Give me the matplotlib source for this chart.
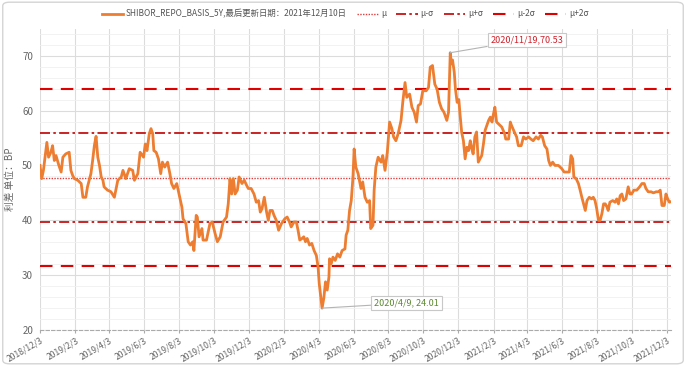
import numpy as np
import pandas as pd
import matplotlib
matplotlib.use("Agg")
import matplotlib.pyplot as plt
from matplotlib.patches import FancyBboxPatch

plt.rcParams['font.family'] = ['Noto Sans CJK SC', 'DejaVu Sans']

# series: days since 2018/12/3 and spread (BP)
start_date = '2018-12-03'
days = [0, 3, 6, 12, 15, 19, 22, 25, 28, 33, 37, 40, 45, 51, 54, 57, 60, 66, 72, 75,
        80, 83, 86, 89, 92, 95, 98, 101, 104, 107, 110, 112, 118, 124, 130, 136, 142, 145, 150, 156,
        162, 165, 171, 175, 181, 184, 187, 191, 194, 197, 199, 203, 207, 211, 214, 218, 223, 227, 230, 234,
        239, 243, 248, 250, 255, 259, 263, 267, 269, 273, 275, 278, 283, 285, 291, 297, 301, 306, 310, 315,
        320, 326, 329, 332, 335, 338, 341, 345, 348, 353, 357, 361, 364, 369, 374, 378, 382, 385, 388, 392,
        396, 399, 402, 406, 409, 413, 417, 422, 428, 432, 436, 439, 444, 448, 451, 454, 458, 461, 464, 467,
        471, 475, 479, 483, 486, 488, 491, 493, 496, 499, 502, 505, 506, 509, 512, 516, 520, 524, 528, 533,
        535, 538, 541, 544, 547, 549, 552, 556, 561, 564, 568, 572, 576, 578, 582, 584, 587, 591, 596, 599,
        603, 607, 611, 615, 618, 622, 626, 631, 634, 638, 641, 646, 650, 654, 658, 661, 665, 669, 675, 679,
        682, 686, 690, 694, 698, 702, 706, 711, 714, 717, 719, 721, 724, 726, 729, 732, 734, 737, 740, 743,
        746, 749, 752, 754, 757, 760, 763, 766, 769, 772, 775, 778, 781, 784, 787, 790, 792, 795, 798, 801,
        807, 812, 814, 819, 822, 824, 829, 833, 836, 841, 845, 849, 854, 858, 862, 867, 871, 875, 878, 882,
        886, 889, 892, 896, 900, 906, 912, 916, 921, 925, 928, 931, 933, 937, 941, 944, 947, 950, 953, 956,
        960, 964, 967, 970, 973, 976, 979, 982, 985, 988, 991, 993, 996, 1001, 1005, 1008, 1011, 1014, 1017, 1020,
        1024, 1028, 1031, 1034, 1038, 1043, 1048, 1052, 1056, 1059, 1063, 1068, 1072, 1077, 1081, 1084, 1087, 1091, 1094, 1097,
        1100, 1103]
spread = [50.0, 47.6, 49.1, 54.2, 51.5, 52.4, 53.6, 50.9, 51.8, 50.0, 48.8, 51.5, 52.1, 52.4, 49.1, 48.2, 47.6, 47.3, 46.7, 44.2,
          44.2, 46.1, 47.3, 48.5, 50.9, 53.6, 55.3, 51.5, 50.0, 47.9, 47.3, 46.1, 45.5, 45.2, 44.2, 47.3, 47.9, 49.1, 47.6, 49.4,
          49.1, 47.3, 48.5, 52.4, 51.5, 53.9, 52.7, 55.8, 56.7, 55.8, 52.7, 52.4, 51.2, 48.5, 50.6, 49.7, 50.6, 48.5, 46.7, 45.8,
          46.7, 44.8, 42.4, 40.3, 39.4, 36.1, 35.5, 36.1, 34.5, 40.9, 40.6, 37.0, 38.5, 36.4, 36.4, 39.4, 39.7, 37.6, 36.1, 37.0,
          39.7, 40.6, 43.0, 47.6, 44.8, 47.6, 44.8, 45.5, 47.9, 46.7, 47.3, 46.4, 45.8, 45.8, 44.8, 43.3, 43.6, 41.5, 42.1, 44.2,
          41.5, 40.0, 41.8, 41.8, 40.9, 40.0, 38.2, 39.4, 40.3, 40.6, 39.7, 38.8, 39.7, 39.7, 38.2, 36.4, 36.7, 37.0, 36.1, 36.7,
          35.5, 35.8, 34.5, 33.6, 31.5, 28.5, 25.8, 24.01, 25.8, 28.8, 27.3, 29.7, 33.0, 32.1, 33.3, 32.7, 33.9, 33.3, 34.5, 34.8,
          37.3, 38.2, 41.8, 43.6, 47.9, 53.0, 49.7, 48.5, 45.8, 47.0, 44.2, 43.3, 43.6, 38.5, 39.1, 45.5, 49.7, 51.5, 50.6, 51.8,
          49.1, 52.4, 57.9, 56.7, 55.2, 54.5, 55.8, 58.2, 61.5, 65.1, 62.4, 63.0, 60.6, 59.7, 57.9, 60.9, 61.2, 63.6, 63.6, 64.2,
          67.9, 68.2, 64.8, 63.9, 61.5, 60.3, 59.7, 58.2, 59.7, 70.53, 68.5, 69.2, 67.0, 64.0, 61.5, 62.0, 59.4, 56.0, 54.5, 51.2,
          53.3, 52.7, 54.5, 53.3, 52.1, 55.2, 56.1, 50.6, 51.2, 51.8, 53.9, 56.4, 57.3, 58.2, 58.8, 57.9, 59.1, 60.6, 57.9, 57.6,
          57.0, 55.8, 54.8, 54.8, 57.9, 57.3, 56.1, 55.2, 53.6, 53.6, 55.2, 54.8, 55.2, 54.8, 54.5, 55.2, 54.8, 55.5, 55.2, 53.6,
          53.0, 50.9, 50.0, 50.6, 50.0, 50.0, 49.4, 48.8, 48.8, 48.8, 51.8, 51.2, 47.9, 47.6, 46.7, 45.5, 44.2, 43.0, 41.8, 43.6,
          44.2, 43.9, 44.2, 43.6, 42.1, 40.0, 40.0, 41.2, 43.0, 43.0, 42.4, 41.8, 43.3, 43.6, 43.3, 43.9, 43.0, 44.5, 44.8, 43.6,
          43.9, 46.1, 44.8, 44.8, 45.5, 45.5, 46.1, 46.7, 46.7, 45.8, 45.2, 45.2, 45.0, 45.2, 45.2, 45.5, 42.7, 42.7, 44.8, 43.9,
          43.3, 43.4]

mu = 47.8
sigma = 8.1

x_ticks = ['2018/12/3', '2019/2/3', '2019/4/3', '2019/6/3', '2019/8/3', '2019/10/3', '2019/12/3',
           '2020/2/3', '2020/4/3', '2020/6/3', '2020/8/3', '2020/10/3', '2020/12/3', '2021/2/3',
           '2021/4/3', '2021/6/3', '2021/8/3', '2021/10/3', '2021/12/3']

dates = pd.Timestamp(start_date) + pd.to_timedelta(days, unit='D')
tick_dates = pd.to_datetime(x_ticks, format='%Y/%m/%d')

fig = plt.figure(figsize=(6.86, 3.66), dpi=100)
ax = fig.add_axes([0.0583, 0.098, 0.920, 0.822])

# outer frame
fig.patches.append(FancyBboxPatch((0.004, 0.006), 0.992, 0.988, boxstyle='round,pad=0,rounding_size=0.01',
                                  transform=fig.transFigure, fill=False, edgecolor='#d4d4d4', lw=1.0))

ax.plot(dates, spread, color='#ED7D31', lw=2.0, label='SHIBOR_REPO_BASIS_5Y,最后更新日期：2021年12月10日', zorder=4)
ax.axhline(mu, color='#E03C3C', lw=1.0, ls=(0, (1, 1)), label='μ', zorder=3)
ax.axhline(mu - sigma, color='#C00000', lw=1.2, ls=(0, (6, 2, 1.5, 2)), label='μ-σ', zorder=3)
ax.axhline(mu + sigma, color='#C00000', lw=1.2, ls=(0, (6, 2, 1.5, 2)), label='μ+σ', zorder=3)
ax.axhline(mu - 2 * sigma, color='#E00000', lw=1.5, ls=(0, (6, 4)), label='μ-2σ', zorder=3)
ax.axhline(mu + 2 * sigma, color='#E00000', lw=1.5, ls=(0, (6, 4)), label='μ+2σ', zorder=3)

ax.set_xlim(pd.Timestamp(start_date), pd.Timestamp('2021-12-10'))
ax.set_ylim(20, 74.8)
ax.set_yticks(np.arange(20, 71, 10))
ax.set_yticks(np.arange(20, 75, 2), minor=True)
ax.set_xticks(tick_dates)
ax.set_xticklabels(x_ticks, rotation=30, ha='right', va='top', rotation_mode='anchor')

ax.grid(which='major', axis='both', color='#dcdcdc', lw=0.8)
ax.grid(which='minor', axis='y', color='#f0f0f0', lw=0.6)
ax.set_axisbelow(True)

for s in ['left', 'right', 'top']:
    ax.spines[s].set_visible(False)
ax.spines['bottom'].set_color('#aaaaaa')
ax.spines['bottom'].set_linestyle((0, (3, 2)))
ax.spines['bottom'].set_linewidth(0.8)

ax.tick_params(axis='y', which='both', length=0, labelsize=7, labelcolor='#666666', pad=5)
ax.tick_params(axis='x', which='major', length=2, color='#aaaaaa', labelsize=6.2, labelcolor='#666666', pad=2)
ax.set_ylabel('利差 单位：BP', fontsize=7, color='#666666', labelpad=5)

# max / min callouts
i_max = int(np.argmax(spread))
i_min = int(np.argmin(spread))
ax.annotate(f"{dates[i_max].year}/{dates[i_max].month}/{dates[i_max].day},{spread[i_max]:.2f}",
            xy=(dates[i_max], spread[i_max]), xytext=(40, 13), textcoords='offset pixels',
            ha='left', va='center', fontsize=6.5, color='#D0202A', zorder=6,
            bbox=dict(boxstyle='square,pad=0.3', fc='white', ec='#c8c8c8', lw=0.8),
            arrowprops=dict(arrowstyle='-', color='#b4b4b4', lw=0.8, shrinkA=0, shrinkB=0))
ax.annotate(f"{dates[i_min].year}/{dates[i_min].month}/{dates[i_min].day}, {spread[i_min]:.2f}",
            xy=(dates[i_min], spread[i_min]), xytext=(52, 5), textcoords='offset pixels',
            ha='left', va='center', fontsize=6.5, color='#5B8A2E', zorder=6,
            bbox=dict(boxstyle='square,pad=0.3', fc='white', ec='#c8c8c8', lw=0.8),
            arrowprops=dict(arrowstyle='-', color='#b4b4b4', lw=0.8, shrinkA=0, shrinkB=0))

fig.legend(loc='center', bbox_to_anchor=(0.503, 0.962), ncol=6, frameon=False, fontsize=6,
           handlelength=2.6, columnspacing=1.2, handletextpad=0.3, labelcolor='#555555')

fig.savefig('out.png', dpi=100)
